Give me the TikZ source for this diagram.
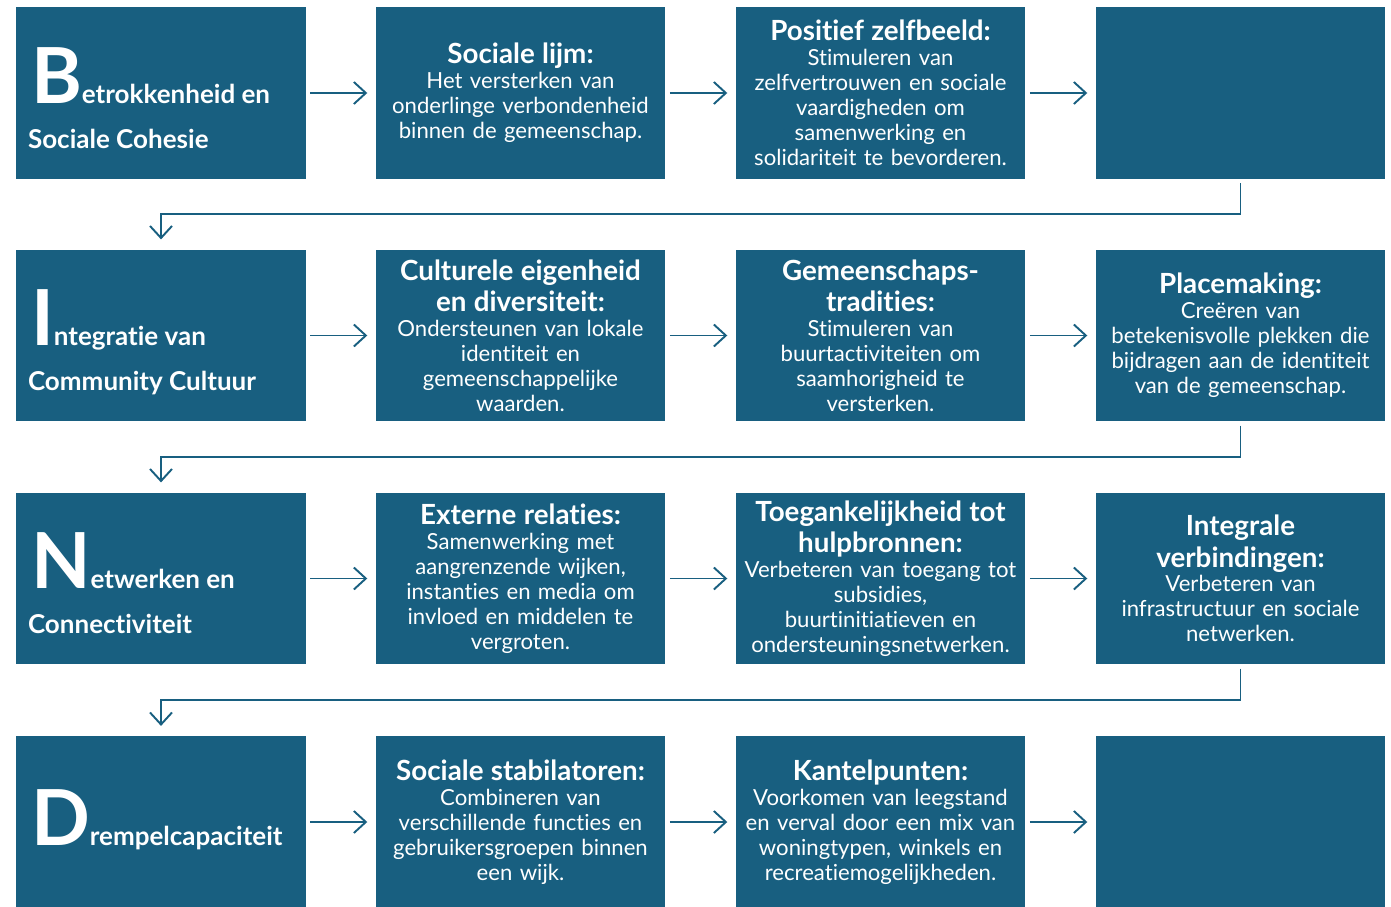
\documentclass[tikz,border=0pt]{standalone}
\usepackage{fontspec}
\setmainfont{Lato}[Ligatures={NoCommon,NoRare}]
\usepackage{xcolor}
\usetikzlibrary{
    calc,
    arrows.meta,
    positioning
}
\definecolor{boxblue}{RGB}{24,95,128}
\newcommand{\bodyfont}{\fontsize{12.6}{14.2}\selectfont}
\newcommand{\kopfont}{\fontsize{15.8}{16.5}\selectfont\bfseries}
\newcommand{\letterfont}{\fontsize{14.8}{16}\selectfont\bfseries}
\newcommand{\grootletter}[1]{{\fontsize{44}{44}\selectfont #1}}

\begin{document}
\begin{tikzpicture}[
        x=0.02cm, y=-0.02cm,
        stepbox/.style={fill=boxblue, text=white, minimum width=5.78cm, minimum height=3.43cm,
            inner sep=1mm, text width=5.6cm, align=center, font=\bodyfont},
        letterlabel/.style={anchor=base west, inner sep=0pt, text=white, font=\letterfont},
        flow/.style={draw=boxblue, line width=1.1pt, -{Straight Barb[length=2.4mm,width=4.4mm]}}
    ]
    \useasboundingbox (0,0) rectangle (1391,906);

    % rij 1
    \node[stepbox] (B1) at (161,93) {};
    \node[stepbox] (B2) at (520.5,93) {{\kopfont Sociale lijm:}\\Het versterken van\\onderlinge verbondenheid\\binnen de gemeenschap.};
    \node[stepbox] (B3) at (880.5,93) {{\kopfont Positief zelfbeeld:}\\Stimuleren van\\zelfvertrouwen en sociale\\vaardigheden om\\samenwerking en\\solidariteit te bevorderen.};
    \node[stepbox] (B4) at (1240.5,93) {};

    % rij 2
    \node[stepbox] (I1) at (161,335.5) {};
    \node[stepbox] (I2) at (520.5,335.5) {{\kopfont Culturele eigenheid\\[2.3pt]en diversiteit:}\\Ondersteunen van lokale\\identiteit en\\gemeenschappelijke\\waarden.};
    \node[stepbox] (I3) at (880.5,335.5) {{\kopfont Gemeenschaps-\\[2.3pt]tradities:}\\Stimuleren van\\buurtactiviteiten om\\saamhorigheid te\\versterken.};
    \node[stepbox] (I4) at (1240.5,335.5) {{\kopfont Placemaking:}\\Creëren van\\betekenisvolle plekken die\\bijdragen aan de identiteit\\van de gemeenschap.};

    % rij 3
    \node[stepbox] (N1) at (161,578.5) {};
    \node[stepbox] (N2) at (520.5,578.5) {{\kopfont Externe relaties:}\\Samenwerking met\\aangrenzende wijken,\\instanties en media om\\invloed en middelen te\\vergroten.};
    \node[stepbox] (N3) at (880.5,578.5) {{\kopfont Toegankelijkheid tot\\[2.3pt]hulpbronnen:}\\Verbeteren van toegang tot\\subsidies,\\buurtinitiatieven en\\ondersteuningsnetwerken.};
    \node[stepbox] (N4) at (1240.5,578.5) {{\kopfont Integrale\\[2.3pt]verbindingen:}\\Verbeteren van\\infrastructuur en sociale\\netwerken.};

    % rij 4
    \node[stepbox] (D1) at (161,822) {};
    \node[stepbox] (D2) at (520.5,822) {{\kopfont Sociale stabilatoren:}\\Combineren van\\verschillende functies en\\gebruikersgroepen binnen\\een wijk.};
    \node[stepbox] (D3) at (880.5,822) {{\kopfont Kantelpunten:}\\Voorkomen van leegstand\\en verval door een mix van\\woningtypen, winkels en\\recreatiemogelijkheden.};
    \node[stepbox] (D4) at (1240.5,822) {};

    % BIND-letters
    \node[letterlabel] (B1a) at ($(B1.west)+(15,10)$) {\grootletter{B}etrokkenheid en};
    \node[letterlabel] (B1b) at ($(B1.west)+(12,55)$) {Sociale Cohesie};
    \node[letterlabel] (I1a) at ($(I1.west)+(15,10)$) {\grootletter{I}ntegratie van};
    \node[letterlabel] (I1b) at ($(I1.west)+(12,55)$) {Community Cultuur};
    \node[letterlabel] (N1a) at ($(N1.west)+(15,10)$) {\grootletter{N}etwerken en};
    \node[letterlabel] (N1b) at ($(N1.west)+(12,55)$) {Connectiviteit};
    \node[letterlabel] (D1a) at ($(D1.west)+(15,23)$) {\grootletter{D}rempelcapaciteit};

    \foreach \r in {B,I,N,D} {
        \foreach \a/\b in {1/2,2/3,3/4} {
            \draw[flow, shorten <=2.3pt, shorten >=4.5pt] (\r\a.east) -- (\r\b.west);
        }
    }

    \foreach \a/\b in {B/I,I/N,N/D} {
        \draw[flow, shorten <=2.3pt, shorten >=5.7pt] (\a4.south) |- ($(\a4.south)!0.5!(\b1.north)$) -| (\b1.north);
    }
\end{tikzpicture}
\end{document}
